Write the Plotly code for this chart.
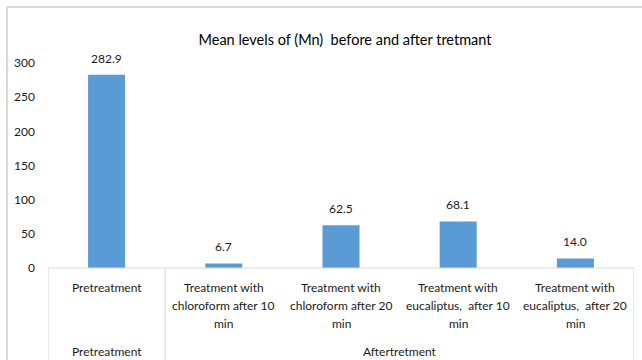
import plotly.graph_objects as go

# Mean Mn levels per treatment
categories = [
    "Pretreatment",
    "Treatment with<br>chloroform after 10<br>min",
    "Treatment with<br>chloroform after 20<br>min",
    "Treatment with<br>eucaliptus,  after 10<br>min",
    "Treatment with<br>eucaliptus,  after 20<br>min",
]
values = [282.9, 6.7, 62.5, 68.1, 14.0]
groups = ["Pretreatment", "Aftertretment"]
group_spans = [(0, 0), (1, 4)]  # first and last category index of each group
y_ticks = [0, 50, 100, 150, 200, 250, 300]

W, H = 642, 360
L, R, T, B = 48, 8, 63, 92  # plot area: x 48..634, y 63..268
PW = W - L - R
PH = H - T - B

FONT = "Lato, Calibri, sans-serif"
TXT = "#1a1a1a"
GRID = "#d9d9d9"


def px_x(px):
    return (px - L) / PW


def px_y(py):
    return (H - B - py) / PH


xs = list(range(len(categories)))

fig = go.Figure(
    go.Bar(
        x=xs,
        y=values,
        width=0.316,
        marker=dict(color="#5b9bd5", line=dict(width=0)),
        hoverinfo="skip",
    )
)

annotations = []
# value labels above bars
for x, v in zip(xs, values):
    annotations.append(dict(
        x=x, y=v, xref="x", yref="y", text=f"{v:.1f}", showarrow=False,
        yanchor="bottom", yshift=7, font=dict(size=12, color=TXT, family=FONT),
    ))
# category labels, one annotation per wrapped line for Excel-like spacing
for x, c in zip(xs, categories):
    for i, line in enumerate(c.split("<br>")):
        annotations.append(dict(
            x=x, y=px_y(287 + 18 * i), xref="x", yref="paper", text=line,
            showarrow=False, yanchor="middle", align="center",
            font=dict(size=12, color=TXT, family=FONT),
        ))
# group labels
for g, (a, b) in zip(groups, group_spans):
    annotations.append(dict(
        x=(a + b) / 2, y=px_y(351), xref="x", yref="paper", text=g, showarrow=False,
        yanchor="middle", font=dict(size=12, color=TXT, family=FONT),
    ))

shapes = [
    # chart border (top and left)
    dict(type="line", xref="paper", yref="paper", x0=px_x(7), x1=px_x(660),
         y0=px_y(7), y1=px_y(7), line=dict(color=GRID, width=2)),
    dict(type="line", xref="paper", yref="paper", x0=px_x(7), x1=px_x(7),
         y0=px_y(7), y1=px_y(370), line=dict(color=GRID, width=2)),
    # category table lines
    dict(type="line", xref="paper", yref="paper", x0=0, x1=1, y0=0, y1=0,
         line=dict(color=GRID, width=1)),
]
for bx in [-0.5, 0.5, 4.5]:
    shapes.append(dict(type="line", xref="x", yref="paper", x0=bx, x1=bx,
                       y0=0, y1=px_y(365), line=dict(color=GRID, width=1)))

fig.update_layout(
    width=W, height=H,
    margin=dict(l=L, r=R, t=T, b=B),
    paper_bgcolor="white", plot_bgcolor="white",
    showlegend=False,
    title=dict(text="Mean levels of (Mn)  before and after tretmant",
               x=345 / W, xanchor="center",
               y=1 - 40 / H, yanchor="middle",
               font=dict(size=14.5, color="black", family=FONT)),
    xaxis=dict(range=[-0.5, 4.5], showticklabels=False, showgrid=False,
               zeroline=False, showline=False, ticks=""),
    yaxis=dict(range=[0, 300], tickvals=y_ticks, showgrid=False, zeroline=False,
               showline=False, ticks="", ticklabelstandoff=12,
               tickfont=dict(size=12, color=TXT, family=FONT)),
    annotations=annotations,
    shapes=shapes,
)

fig.write_html("out.html")
